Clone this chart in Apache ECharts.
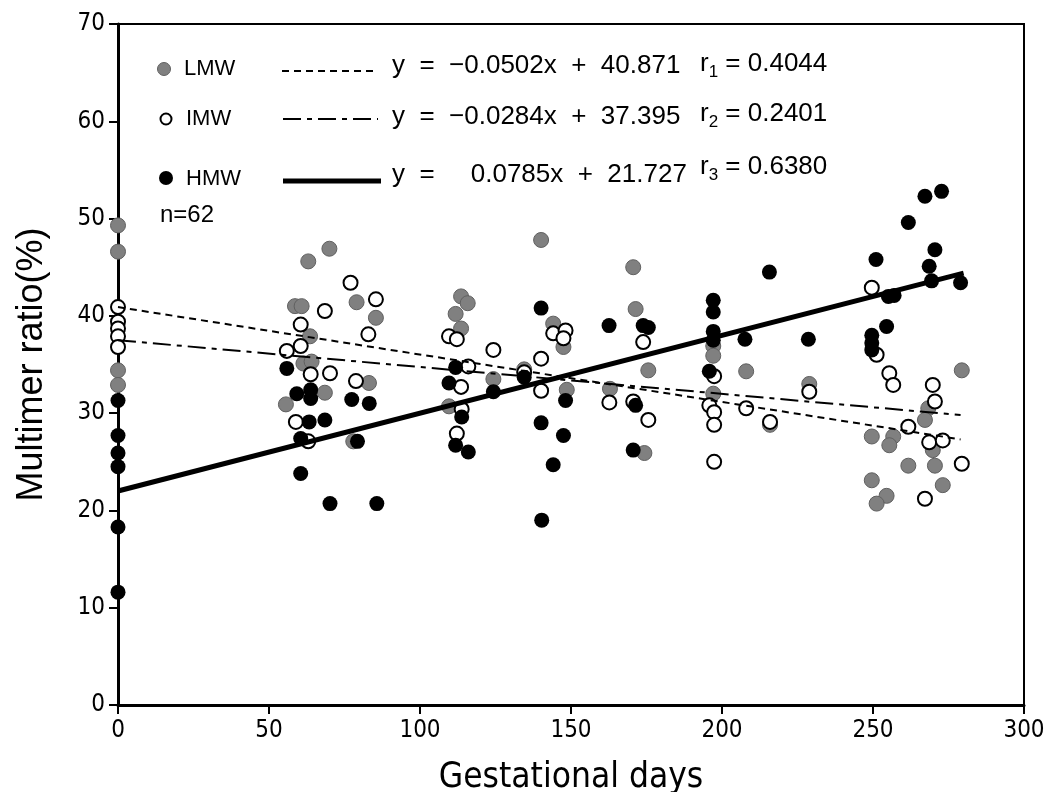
<!DOCTYPE html>
<html>
<head>
<meta charset="utf-8">
<script src="https://cdn.jsdelivr.net/npm/echarts@6/dist/echarts.min.js"></script>
<style>html,body{margin:0;padding:0;background:#fff}#c{width:1057px;height:792px}</style>
</head>
<body>
<div id="c"></div>
<script>
// ---- data ----
var xTicks = [0, 50, 100, 150, 200, 250, 300];
var yTicks = [0, 10, 20, 30, 40, 50, 60, 70];

var lmwPoints = [
  [0,49.3],[0,46.6],[0,34.4],[0,32.9],
  [70.0,46.9],[63.0,45.6],[58.6,41.0],[60.8,41.0],[79.0,41.4],[85.4,39.8],[63.6,37.9],[61.4,35.1],[64.1,35.3],[68.5,32.1],[83.1,33.1],[55.6,30.9],[77.9,27.1],
  [113.6,42.0],[115.8,41.3],[111.8,40.2],[113.6,38.7],[124.3,33.5],[109.6,30.7],[134.5,34.5],
  [140.1,47.8],[170.6,45.0],[144.1,39.2],[171.4,40.7],[147.5,36.8],[175.6,34.4],[148.6,32.4],[162.9,32.5],[174.3,25.9],
  [197.1,36.9],[197.1,35.9],[208.0,34.3],[197.1,32.0],[228.9,33.0],[215.9,28.8],
  [279.4,34.4],[268.3,30.5],[267.2,29.3],[249.6,27.6],[256.7,27.6],[255.4,26.7],[269.8,26.2],[261.7,24.6],[270.5,24.6],[249.6,23.1],[273.1,22.6],[254.5,21.5],[251.2,20.7]
];
var imwPoints = [
  [0,40.9],[0,39.4],[0,38.7],[0,37.9],[0,36.8],
  [77.0,43.4],[85.4,41.7],[68.5,40.5],[60.5,39.1],[82.9,38.1],[60.5,36.9],[55.9,36.4],[63.8,34.0],[70.2,34.1],[78.8,33.3],[58.9,29.1],[63.0,27.1],
  [109.6,37.9],[112.2,37.6],[124.3,36.5],[116.0,34.8],[113.6,32.7],[113.8,30.4],[112.2,27.9],[134.5,34.2],
  [144.1,38.2],[148.2,38.5],[147.5,37.7],[140.1,35.6],[140.1,32.3],[162.7,31.1],[173.9,37.3],[175.6,29.3],[170.6,31.2],
  [197.4,33.8],[195.8,30.8],[197.4,30.1],[197.4,28.8],[197.4,25.0],[208.0,30.5],[215.9,29.1],[228.9,32.2],
  [249.6,42.9],[251.2,36.0],[255.4,34.1],[256.7,32.9],[269.8,32.9],[270.5,31.2],[261.7,28.6],[268.6,27.0],[273.1,27.2],[279.4,24.8],[267.2,21.2]
];
var hmwPoints = [
  [0,31.3],[0,27.7],[0,25.9],[0,24.5],[0,18.3],[0,11.6],
  [55.9,34.6],[59.2,32.0],[63.8,32.4],[63.8,31.5],[77.4,31.4],[83.2,31.0],[63.3,29.1],[68.5,29.3],[60.5,27.4],[79.3,27.1],[60.5,23.8],[70.2,20.7],[85.7,20.7],
  [111.8,34.7],[109.6,33.1],[124.3,32.2],[113.8,29.6],[111.8,26.7],[116.0,26.0],[134.5,33.7],
  [140.1,40.8],[162.6,39.0],[173.9,39.0],[175.6,38.8],[148.2,31.3],[171.4,30.8],[140.1,29.0],[147.5,27.7],[144.1,24.7],[170.6,26.2],[140.3,19.0],
  [197.1,41.6],[197.1,40.4],[215.7,44.5],[197.1,38.4],[197.1,37.5],[207.6,37.6],[228.6,37.6],[195.8,34.3],
  [272.7,52.8],[267.2,52.3],[261.7,49.6],[251.0,45.8],[270.5,46.8],[268.6,45.1],[269.4,43.6],[279.0,43.4],[255.1,42.0],[257.0,42.1],[254.5,38.9],[249.6,38.0],[249.6,37.2],[249.6,36.5]
];
// regression line end points
var lmwFit = [[0,40.9],[279,27.3]];
var imwFit = [[0,37.5],[279,29.8]];
var hmwFit = [[0,22.0],[280,44.4]];

var FONT = '"Liberation Sans Narrow","DejaVu Sans Condensed","Liberation Sans",sans-serif';
var FONT2 = '"Liberation Sans","DejaVu Sans",sans-serif';

var chart = echarts.init(document.getElementById('c'), null, {renderer:'canvas'});

function eqText(x, y, eq) {
  return {type: 'text', left: x, top: y,
    style: {text: eq, fontFamily: FONT2, fontSize: 26, fill: '#000'}};
}
function rText(x, y, sub, r) {
  return {
    type: 'text', left: x, top: y,
    style: {
      rich: {
        n: {fontFamily: FONT2, fontSize: 26, fill: '#000'},
        s: {fontFamily: FONT2, fontSize: 17, fill: '#000', padding: [17,0,0,0]}
      },
      text: '{n|r}{s|' + sub + '}{n| = ' + r + '}'
    }
  };
}

var option = {
  animation: false,
  backgroundColor: '#fff',
  grid: {left: 118, right: 33, top: 24, bottom: 87, containLabel: false, outerBoundsMode: 'none',
         show: true, borderColor: '#000', borderWidth: 2, backgroundColor: 'transparent'},
  xAxis: {
    type: 'value', min: 0, max: 300, interval: 50,
    name: 'Gestational days', nameLocation: 'middle', nameGap: 55,
    nameTextStyle: {fontFamily: FONT, fontSize: 35, color: '#000'},
    axisLine: {show: true, lineStyle: {color: '#000', width: 3}},
    axisTick: {show: true, inside: false, length: 9, lineStyle: {color: '#000', width: 2}},
    axisLabel: {fontFamily: FONT, fontSize: 24, color: '#000', margin: 14},
    splitLine: {show: false}
  },
  yAxis: {
    type: 'value', min: 0, max: 70, interval: 10,
    name: 'Multimer ratio(%)', nameLocation: 'middle', nameGap: 68, nameRotate: 90,
    nameTextStyle: {fontFamily: FONT2, fontSize: 36, color: '#000'},
    axisLine: {show: true, lineStyle: {color: '#000', width: 3}},
    axisTick: {show: true, inside: false, length: 9, lineStyle: {color: '#000', width: 2}},
    axisLabel: {fontFamily: FONT, fontSize: 24, color: '#000', margin: 13},
    splitLine: {show: false}
  },
  series: [
    {name: 'LMW', type: 'scatter', data: lmwPoints, symbolSize: 15, clip: false,
     itemStyle: {color: '#808080', borderColor: '#606060', borderWidth: 1, opacity: 1}, z: 2},
    {name: 'IMW', type: 'scatter', data: imwPoints, symbolSize: 14, clip: false,
     itemStyle: {color: '#fff', borderColor: '#000', borderWidth: 2, opacity: 1}, z: 3},
    {name: 'HMW', type: 'scatter', data: hmwPoints, symbolSize: 15, clip: false,
     itemStyle: {color: '#000', borderColor: '#000', borderWidth: 0, opacity: 1}, z: 4},
    {type: 'line', data: lmwFit, symbol: 'none', lineStyle: {color: '#000', width: 2, type: [7,5]}, z: 5, silent: true},
    {type: 'line', data: imwFit, symbol: 'none', lineStyle: {color: '#000', width: 2, type: [18,6,5,6]}, z: 5, silent: true},
    {type: 'line', data: hmwFit, symbol: 'none', lineStyle: {color: '#000', width: 5}, z: 5, silent: true}
  ],
  graphic: [
    {type: 'circle', shape: {cx: 164, cy: 69, r: 6.5}, style: {fill: '#808080', stroke: '#606060', lineWidth: 1}},
    {type: 'circle', shape: {cx: 166, cy: 119, r: 5.5}, style: {fill: '#fff', stroke: '#000', lineWidth: 2}},
    {type: 'circle', shape: {cx: 166, cy: 178, r: 7}, style: {fill: '#000'}},
    {type: 'text', left: 184, top: 58, style: {text: 'LMW', fontFamily: FONT2, fontSize: 22, fill: '#000'}},
    {type: 'text', left: 186, top: 108, style: {text: 'IMW', fontFamily: FONT2, fontSize: 22, fill: '#000'}},
    {type: 'text', left: 186, top: 168, style: {text: 'HMW', fontFamily: FONT2, fontSize: 22, fill: '#000'}},
    {type: 'line', shape: {x1: 282, y1: 71, x2: 374, y2: 71}, style: {stroke: '#000', lineWidth: 2, lineDash: [7,5]}},
    {type: 'line', shape: {x1: 283, y1: 119, x2: 378, y2: 119}, style: {stroke: '#000', lineWidth: 2, lineDash: [18,6,5,6]}},
    {type: 'line', shape: {x1: 283, y1: 181, x2: 381, y2: 181}, style: {stroke: '#000', lineWidth: 5}},
    eqText(392, 53, 'y  =  \u22120.0502x  +  40.871'),
    eqText(392, 104, 'y  =  \u22120.0284x  +  37.395'),
    eqText(392, 162, 'y  =     0.0785x  +  21.727'),
    rText(700, 51, '1', '0.4044'),
    rText(700, 101, '2', '0.2401'),
    rText(700, 154, '3', '0.6380'),
    {type: 'text', left: 160, top: 203, style: {text: 'n=62', fontFamily: FONT2, fontSize: 24, fill: '#000'}}
  ]
};
chart.setOption(option);
</script>
</body>
</html>
